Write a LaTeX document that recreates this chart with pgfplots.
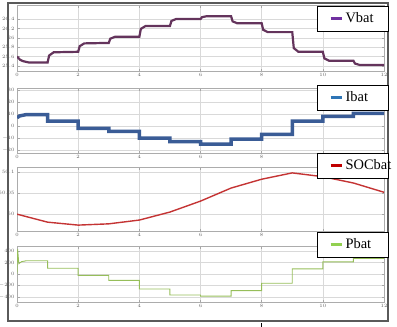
\documentclass[border=0pt]{standalone}
\usepackage{fontspec}
\setmainfont{Liberation Serif}
\usepackage{pgfplots}
\pgfplotsset{compat=1.18}
\definecolor{vline}{RGB}{100,52,92}
\definecolor{vleg}{RGB}{112,48,160}
\definecolor{iline}{RGB}{58,92,150}
\definecolor{ileg}{RGB}{46,117,182}
\definecolor{sline}{RGB}{196,52,52}
\definecolor{sleg}{RGB}{192,0,0}
\definecolor{pline}{RGB}{150,190,90}
\definecolor{pleg}{RGB}{146,208,80}
\definecolor{frame}{RGB}{90,90,90}

\pgfplotsset{
  panel/.style={
    scale only axis, width=367bp, anchor=north west,
    xmin=0, xmax=12, xtick={0,2,...,12},
    grid=major, grid style={gray!30, line width=0.5bp},
    axis line style={gray!65, line width=0.6bp},
    tick style={gray!70, line width=0.4bp}, major tick length=2.5bp,
    tick label style={font=\fontsize{4}{4}\selectfont, text=gray!75!black},
    xticklabel style={yshift=1bp}, yticklabel style={xshift=1bp},
    legend style={at={(rel axis cs:1,1)}, anchor=north east, draw=black,
      line width=0.9bp, inner xsep=0pt, inner ysep=6.5bp,
      font=\fontsize{14.5}{15}\selectfont, cells={anchor=west},
      nodes={inner sep=0pt}},
    legend image code/.code={
      \path[draw=none,fill=none] (0bp,-1bp) rectangle (28bp,1bp);
      \draw[#1, line width=3bp] (13bp,0bp) -- (24bp,0bp);},
  },
}

\begin{document}
\begin{tikzpicture}
\path[use as bounding box] (0,0) rectangle (397bp,-327bp);
\draw[frame, line width=2.5bp] (8bp,-3bp) rectangle (388bp,-321bp);
\draw[black, line width=1bp] (261bp,-323bp) -- (261bp,-327bp);

% Vbat
\begin{axis}[panel, at={(17bp,-5bp)}, height=66bp,
  ymin=25.29, ymax=26.70, ytick={25.4,25.6,...,26.41},
  legend style={xshift=5bp, yshift=-1bp}]
\addplot[vline, line width=2.2bp, forget plot] coordinates {
  (0,25.6)(0.1,25.53)(0.2,25.5)(0.4,25.47)(1,25.47)
  (1.05,25.62)(1.2,25.69)(2,25.70)
  (2.05,25.82)(2.2,25.88)(3,25.89)
  (3.05,25.98)(3.2,26.02)(4,26.02)
  (4.05,26.19)(4.2,26.25)(5,26.25)
  (5.05,26.36)(5.2,26.40)(6,26.40)
  (6.05,26.44)(6.2,26.46)(7,26.46)
  (7.05,26.35)(7.2,26.31)(8,26.31)
  (8.05,26.17)(8.2,26.12)(9,26.12)
  (9.05,25.78)(9.2,25.70)(10,25.70)
  (10.05,25.56)(10.2,25.51)(11,25.51)
  (11.05,25.45)(11.2,25.42)(12,25.42)};
\addlegendimage{vleg}
\addlegendentry{\makebox[43bp][l]{Vbat}}
\end{axis}

% Ibat
\begin{axis}[panel, at={(17bp,-88bp)}, height=65bp,
  ymin=-22.5, ymax=31.7, ytick={-20,-10,...,30},
  legend style={xshift=5bp, yshift=3bp}]
\addplot[iline, line width=3.5bp, forget plot] coordinates {
  (0,7)(0.1,8.5)(0.3,9.5)(1,9.5)
  (1,4)(2,4)(2,-2)(3,-2)(3,-4.5)(4,-4.5)
  (4,-10)(5,-10)(5,-13)(6,-13)(6,-15)(7,-15)
  (7,-11)(8,-11)(8,-7)(9,-7)(9,4)(10,4)
  (10,8)(11,8)(11,10.5)(12,10.5)};
\addlegendimage{ileg}
\addlegendentry{\makebox[43bp][l]{Ibat}}
\end{axis}

% SOCbat
\begin{axis}[panel, at={(17bp,-167bp)}, height=64bp,
  ymin=49.96, ymax=50.112, ytick={50,50.05,50.1},
  yticklabel style={/pgf/number format/fixed, /pgf/number format/precision=2},
  legend style={xshift=5bp, yshift=14bp}]
\addplot[sline, line width=1.4bp, forget plot] coordinates {
  (0,50.0)(1,49.981)(2,49.974)(3,49.977)(4,49.986)(5,50.005)
  (6,50.031)(7,50.062)(8,50.083)(9,50.098)(10,50.089)
  (11,50.074)(12,50.052)};
\addlegendimage{sleg}
\addlegendentry{\makebox[43bp][l]{SOCbat}}
\end{axis}

% Pbat
\begin{axis}[panel, at={(17bp,-246bp)}, height=56bp,
  ymin=-487, ymax=487, ytick={-400,-200,...,400},
  legend style={xshift=5bp, yshift=14bp}]
\addplot[pline, line width=0.9bp, forget plot] coordinates {
  (0,0)(0.02,430)(0.06,180)(0.15,215)(0.3,230)(1,230)
  (1,100)(2,100)(2,-25)(3,-25)(3,-110)(4,-110)
  (4,-260)(5,-260)(5,-365)(6,-365)(6,-385)(7,-385)
  (7,-290)(8,-290)(8,-160)(9,-160)(9,90)(10,90)
  (10,210)(11,210)(11,270)(12,270)};
\addlegendimage{pleg}
\addlegendentry{\makebox[43bp][l]{Pbat}}
\end{axis}
\end{tikzpicture}
\end{document}
